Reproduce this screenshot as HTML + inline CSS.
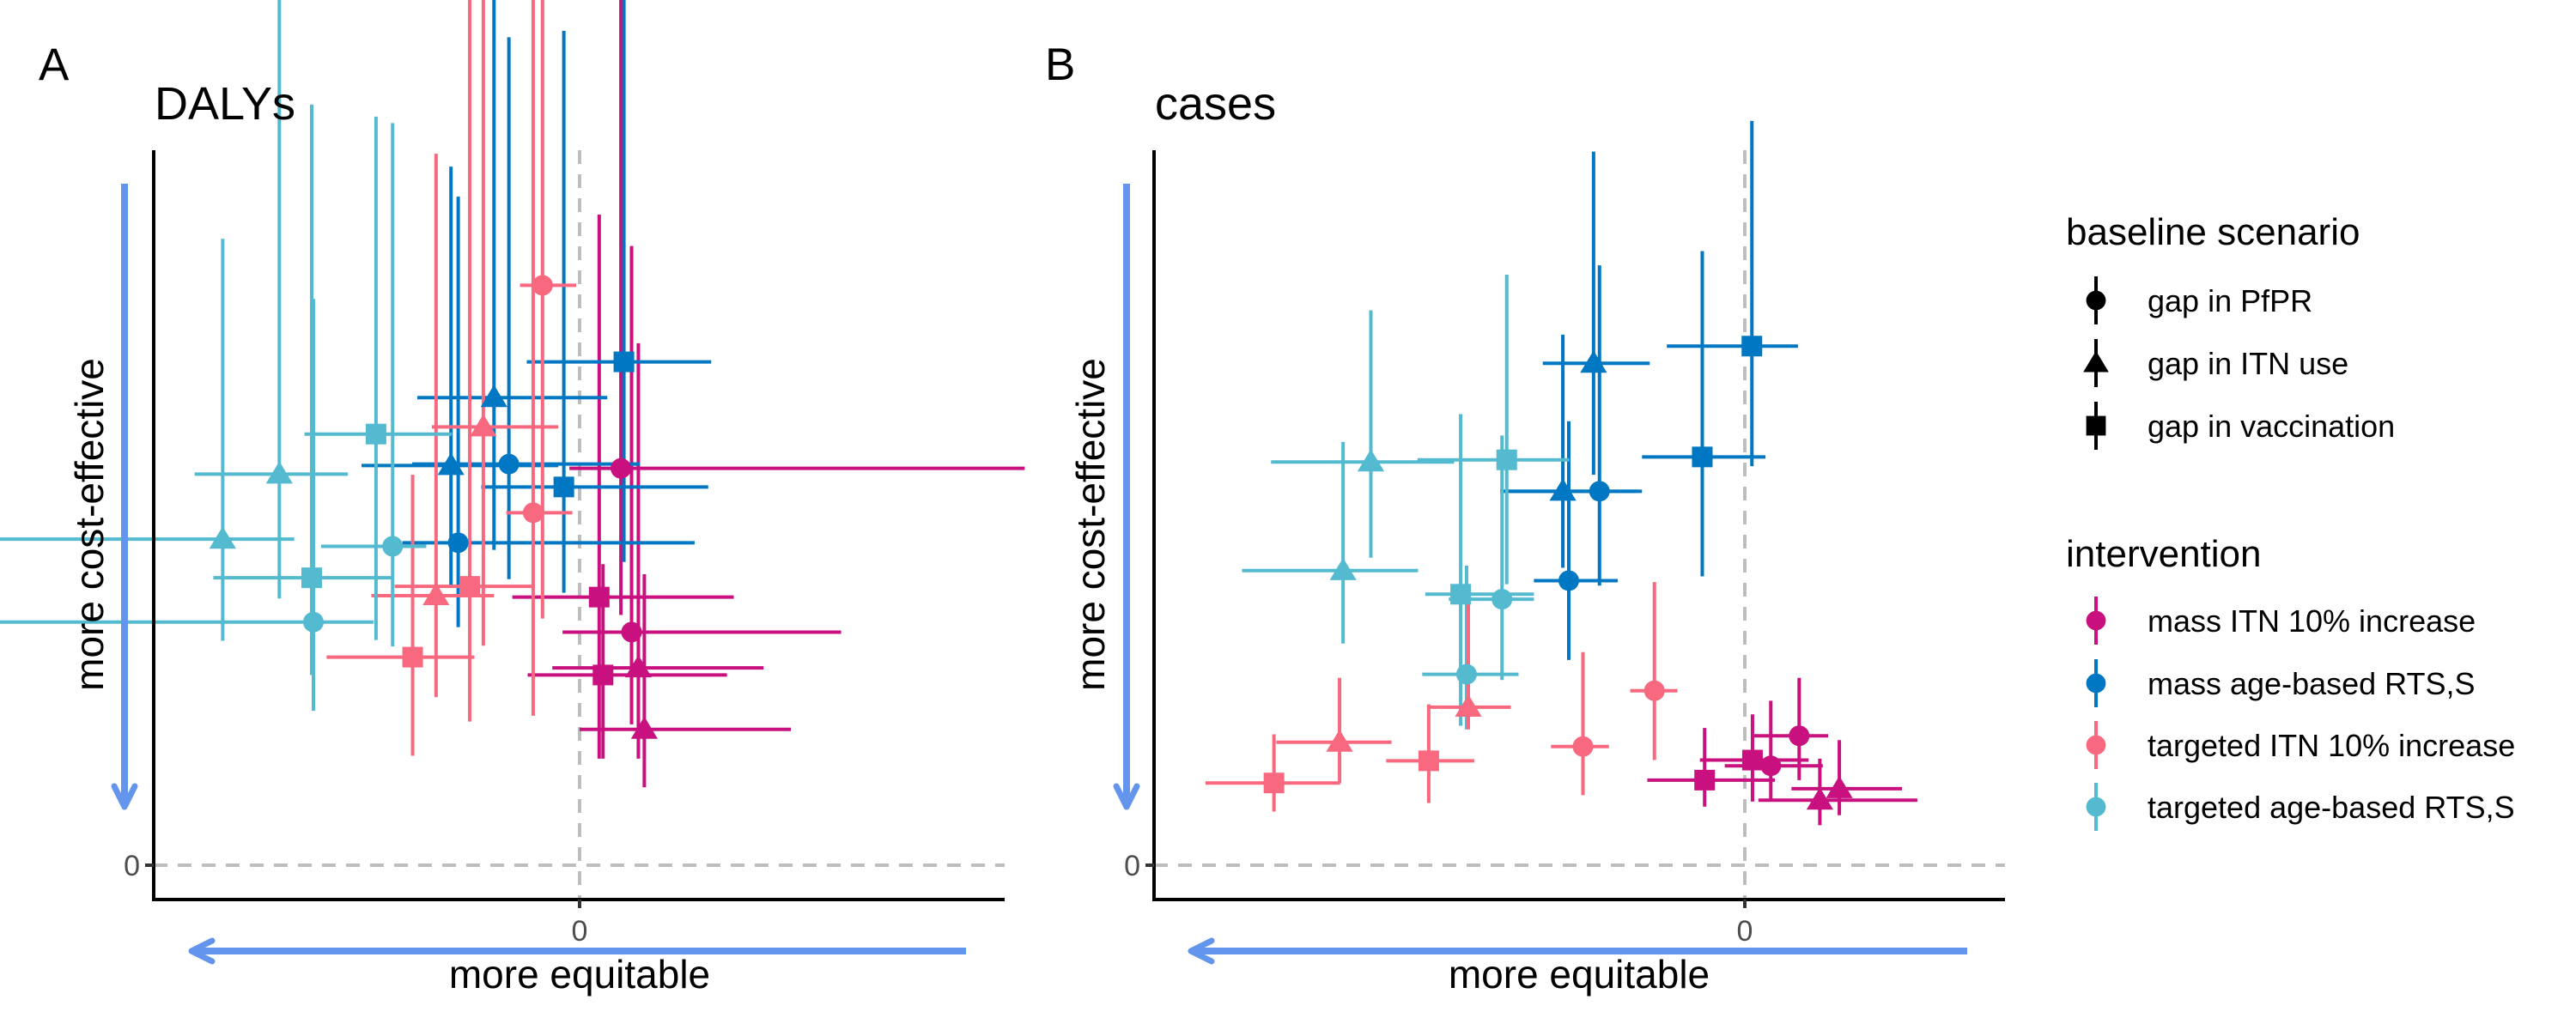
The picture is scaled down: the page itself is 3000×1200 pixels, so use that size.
<!DOCTYPE html>
<html><head><meta charset="utf-8"><style>
html,body{margin:0;padding:0;background:#fff;}
svg{display:block;font-family:"Liberation Sans",sans-serif;}
</style></head><body>
<svg id="chart" width="3000" height="1200" viewBox="0 0 3000 1200" xmlns="http://www.w3.org/2000/svg">
<g id="root"></g>
</svg>
<script>
// ---- data: interventions & scenarios
const interventions = ["mass ITN 10% increase","mass age-based RTS,S","targeted ITN 10% increase","targeted age-based RTS,S"];
const scenarios = ["gap in PfPR","gap in ITN use","gap in vaccination"];
// Panel A (DALYs): intervention index, scenario index, x, xlo, xhi, y, ylo, yhi
const aInt = [0,0,0,0,0,0, 1,1,1,1,1,1, 2,2,2,2,2,2, 3,3,3,3,3,3];
const aScn = [0,0,2,2,1,1, 2,1,0,1,2,0, 0,1,0,2,1,2, 2,1,1,0,2,0];
const aX   = [0.097,0.122,0.046,0.055,0.138,0.152, 0.104,-0.201,-0.166,-0.302,-0.037,-0.285, -0.087,-0.226,-0.109,-0.258,-0.337,-0.392, -0.478,-0.705,-0.838,-0.439,-0.629,-0.625];
const aXlo = [-0.024,-0.040,-0.158,-0.122,-0.064,0.000, -0.124,-0.381,-0.393,-0.512,-0.231,-0.416, -0.140,-0.347,-0.172,-0.434,-0.489,-0.594, -0.646,-0.904,-1.4,-0.607,-0.860,-1.4];
const aXhi = [1.045,0.614,0.362,0.346,0.432,0.496, 0.309,0.065,0.141,-0.050,0.302,0.270, -0.008,-0.050,-0.017,-0.109,-0.201,-0.247, -0.300,-0.544,-0.670,-0.360,-0.436,-0.484];
const aY   = [0.555,0.326,0.375,0.266,0.276,0.190, 0.704,0.654,0.561,0.559,0.529,0.451, 0.811,0.613,0.493,0.390,0.377,0.291, 0.603,0.547,0.456,0.446,0.402,0.340];
const aYlo = [0.350,0.197,0.149,0.149,0.149,0.109, 0.424,0.441,0.400,0.389,0.381,0.333, 0.345,0.307,0.209,0.201,0.235,0.153, 0.315,0.373,0.314,0.306,0.266,0.216];
const aYhi = [1.4,0.866,0.910,0.421,0.730,0.407, 1.4,1.4,1.158,0.977,1.167,0.935, 1.4,1.4,1.4,1.4,0.995,0.546, 1.047,1.4,0.876,1.038,1.064,0.792];
// Panel B (cases)
const bInt = [1,1,1,1,1,1, 3,3,3,3,3,3, 2,2,2,2,2,2, 0,0,0,0,0,0];
const bScn = [2,2,1,0,1,0, 2,1,1,2,0,0, 0,0,1,2,1,2, 0,0,2,2,1,1];
const bX   = [0.012,-0.072,-0.256,-0.246,-0.308,-0.298, -0.403,-0.633,-0.680,-0.481,-0.411,-0.471, -0.153,-0.274,-0.468,-0.535,-0.686,-0.797, 0.092,0.044,0.013,-0.068,0.160,0.127];
const bXlo = [-0.132,-0.174,-0.342,-0.414,-0.414,-0.357, -0.554,-0.802,-0.851,-0.541,-0.501,-0.546, -0.194,-0.328,-0.538,-0.607,-0.793,-0.913, 0.013,-0.034,-0.076,-0.165,0.079,0.023];
const bXhi = [0.090,0.035,-0.161,-0.174,-0.183,-0.215, -0.297,-0.492,-0.553,-0.357,-0.357,-0.383, -0.114,-0.230,-0.396,-0.458,-0.598,-0.685, 0.141,0.132,0.108,0.051,0.266,0.292];
const bY   = [0.726,0.571,0.702,0.523,0.523,0.398, 0.567,0.564,0.412,0.379,0.372,0.267, 0.244,0.166,0.221,0.146,0.172,0.115, 0.181,0.139,0.147,0.119,0.107,0.091];
const bYlo = [0.558,0.404,0.546,0.391,0.416,0.287, 0.393,0.430,0.310,0.195,0.259,0.190, 0.147,0.098,0.190,0.087,0.115,0.075, 0.119,0.091,0.089,0.082,0.070,0.056];
const bYhi = [1.041,0.859,0.998,0.839,0.742,0.621, 0.826,0.776,0.592,0.631,0.601,0.419, 0.396,0.298,0.366,0.225,0.262,0.183, 0.262,0.230,0.211,0.192,0.175,0.149];

const colors = ["#C8107E","#0077C2","#F8697F","#53BAD0"];
const NS = "http://www.w3.org/2000/svg";
const root = document.getElementById('root');
function mk(tag, attrs, parent){ const e=document.createElementNS(NS,tag); for(const k in attrs) e.setAttribute(k,attrs[k]); (parent||root).appendChild(e); return e; }

function marker(g, shape, cx, cy, col, s){
  let e;
  if(shape===0){ e=mk('circle',{cx:cx,cy:cy,r:12*s,fill:col},g); }
  else if(shape===1){ const h=13*s; e=mk('polygon',{points:`${cx},${cy-h*1.15} ${cx+h*1.2},${cy+h*0.85} ${cx-h*1.2},${cy+h*0.85}`,fill:col},g); }
  else { const h=12*s; e=mk('rect',{x:cx-h,y:cy-h,width:2*h,height:2*h,fill:col},g); }
  return e;
}

function panel(cfg){
  const g = mk('g',{});
  
  
  const sx = v => cfg.x0 + v*cfg.xu;
  const sy = v => cfg.y0 - v*cfg.yu;
  const clip = mk('clipPath',{id:cfg.name+'-clip'},g);
  mk('rect',{x:0,y:0,width:cfg.clipR,height:1200},clip);
  const zv = mk('line',{x1:sx(0),x2:sx(0),y1:cfg.top,y2:cfg.bottom,stroke:"#BEBEBE","stroke-width":4,"stroke-dasharray":"16,12"},g);
  
  
  const zh = mk('line',{x1:cfg.left,x2:cfg.right,y1:sy(0),y2:sy(0),stroke:"#BEBEBE","stroke-width":4,"stroke-dasharray":"16,12"},g);
  
  
  const data = cfg.data;
  const eg = mk('g',{"clip-path":`url(#${cfg.name}-clip)`},g);
  for(let i=0;i<data.x.length;i++){
    const col=colors[data.int[i]];
    const h = mk('line',{x1:sx(data.xlo[i]),x2:sx(data.xhi[i]),y1:sy(data.y[i]),y2:sy(data.y[i]),stroke:col,"stroke-width":4},eg);
    
    
    const v = mk('line',{x1:sx(data.x[i]),x2:sx(data.x[i]),y1:sy(data.ylo[i]),y2:sy(data.yhi[i]),stroke:col,"stroke-width":4},eg);
    
    
  }
  for(let i=0;i<data.x.length;i++){
    const p = marker(eg, data.scn[i], sx(data.x[i]), sy(data.y[i]), colors[data.int[i]], 1);
    
    
  }
  const ya = mk('line',{x1:cfg.left,x2:cfg.left,y1:cfg.top,y2:cfg.bottom+2,stroke:"#000","stroke-width":4},g);
  
  
  const xa = mk('line',{x1:cfg.left-2,x2:cfg.right,y1:cfg.bottom,y2:cfg.bottom,stroke:"#000","stroke-width":4},g);
  
  
  const t1 = mk('line',{x1:cfg.left-10,x2:cfg.left,y1:sy(0),y2:sy(0),stroke:"#333","stroke-width":4},g);
  
  
  const t2 = mk('line',{x1:sx(0),x2:sx(0),y1:cfg.bottom,y2:cfg.bottom+10,stroke:"#333","stroke-width":4},g);
  
  
  const yl = mk('text',{x:cfg.left-16,y:sy(0)+12,"font-size":34,fill:"#4D4D4D","text-anchor":"end"},g); yl.textContent="0";
  
  
  const xl = mk('text',{x:sx(0),y:cfg.bottom+48,"font-size":34,fill:"#4D4D4D","text-anchor":"middle"},g); xl.textContent="0";
  
  
  const av = mk('g',{},g);
  
  
  mk('line',{x1:cfg.arrV,x2:cfg.arrV,y1:214,y2:938,stroke:"#6495ED","stroke-width":8},av);
  mk('polyline',{points:`${cfg.arrV-12},${916} ${cfg.arrV},${940} ${cfg.arrV+12},${916}`,fill:"none",stroke:"#6495ED","stroke-width":7,"stroke-linecap":"round","stroke-linejoin":"round"},av);
  const ah = mk('g',{},g);
  
  
  mk('line',{x1:cfg.arrH1,x2:cfg.arrH2+2,y1:1108,y2:1108,stroke:"#6495ED","stroke-width":8},ah);
  mk('polyline',{points:`${cfg.arrH2+24},${1096} ${cfg.arrH2},${1108} ${cfg.arrH2+24},${1120}`,fill:"none",stroke:"#6495ED","stroke-width":7,"stroke-linecap":"round","stroke-linejoin":"round"},ah);
  const xt = mk('text',{x:cfg.xtX,y:1151,"font-size":46,fill:"#000","text-anchor":"middle"},g); xt.textContent="more equitable";
  
  
  const yt = mk('text',{x:0,y:0,"font-size":46,fill:"#000","text-anchor":"middle",transform:`translate(${cfg.ytX},611) rotate(-90)`},g); yt.textContent="more cost-effective";
  
  
  const tt = mk('text',{x:cfg.left+1,y:139,"font-size":54,fill:"#000"},g); tt.textContent=cfg.title;
  
  
  const tg = mk('text',{x:cfg.tagX,y:93,"font-size":53,fill:"#000"},g); tg.textContent=cfg.tag;
  
  
}

panel({name:"panel-dalys",title:"DALYs",tag:"A",tagX:45,x0:675,xu:496,y0:1008,yu:833,left:179,right:1170,top:175,bottom:1048,clipR:1230,
  arrV:145,arrH1:1125,arrH2:223,xtX:675,ytX:120,
  data:{int:aInt,scn:aScn,x:aX,xlo:aXlo,xhi:aXhi,y:aY,ylo:aYlo,yhi:aYhi}});
panel({name:"panel-cases",title:"cases",tag:"B",tagX:1217,x0:2032,xu:688,y0:1008,yu:833,left:1344,right:2335,top:175,bottom:1048,clipR:3000,
  arrV:1312,arrH1:2291,arrH2:1387,xtX:1839,ytX:1286,
  data:{int:bInt,scn:bScn,x:bX,xlo:bXlo,xhi:bXhi,y:bY,ylo:bYlo,yhi:bYhi}});

// legend
const lg = mk('g',{});


const lt1 = mk('text',{x:2406,y:285,"font-size":44,fill:"#000"},lg); lt1.textContent="baseline scenario";


const scnY=[350,423,496];
scenarios.forEach((s,i)=>{
  const eg=mk('g',{},lg);
  
  
  mk('line',{x1:2441,x2:2441,y1:scnY[i]-28,y2:scnY[i]+28,stroke:"#000","stroke-width":4},eg);
  marker(eg,i,2441,scnY[i],"#000",0.95);
  const t=mk('text',{x:2501,y:scnY[i]+13,"font-size":36,fill:"#000"},eg); t.textContent=s;
});
const lt2 = mk('text',{x:2406,y:660,"font-size":44,fill:"#000"},lg); lt2.textContent="intervention";


const intY=[723,796,868,940];
interventions.forEach((s,i)=>{
  const eg=mk('g',{},lg);
  
  
  mk('line',{x1:2441,x2:2441,y1:intY[i]-28,y2:intY[i]+28,stroke:colors[i],"stroke-width":4},eg);
  marker(eg,0,2441,intY[i],colors[i],0.95);
  const t=mk('text',{x:2501,y:intY[i]+13,"font-size":36,fill:"#000"},eg); t.textContent=s;
});
</script>
</body></html>
